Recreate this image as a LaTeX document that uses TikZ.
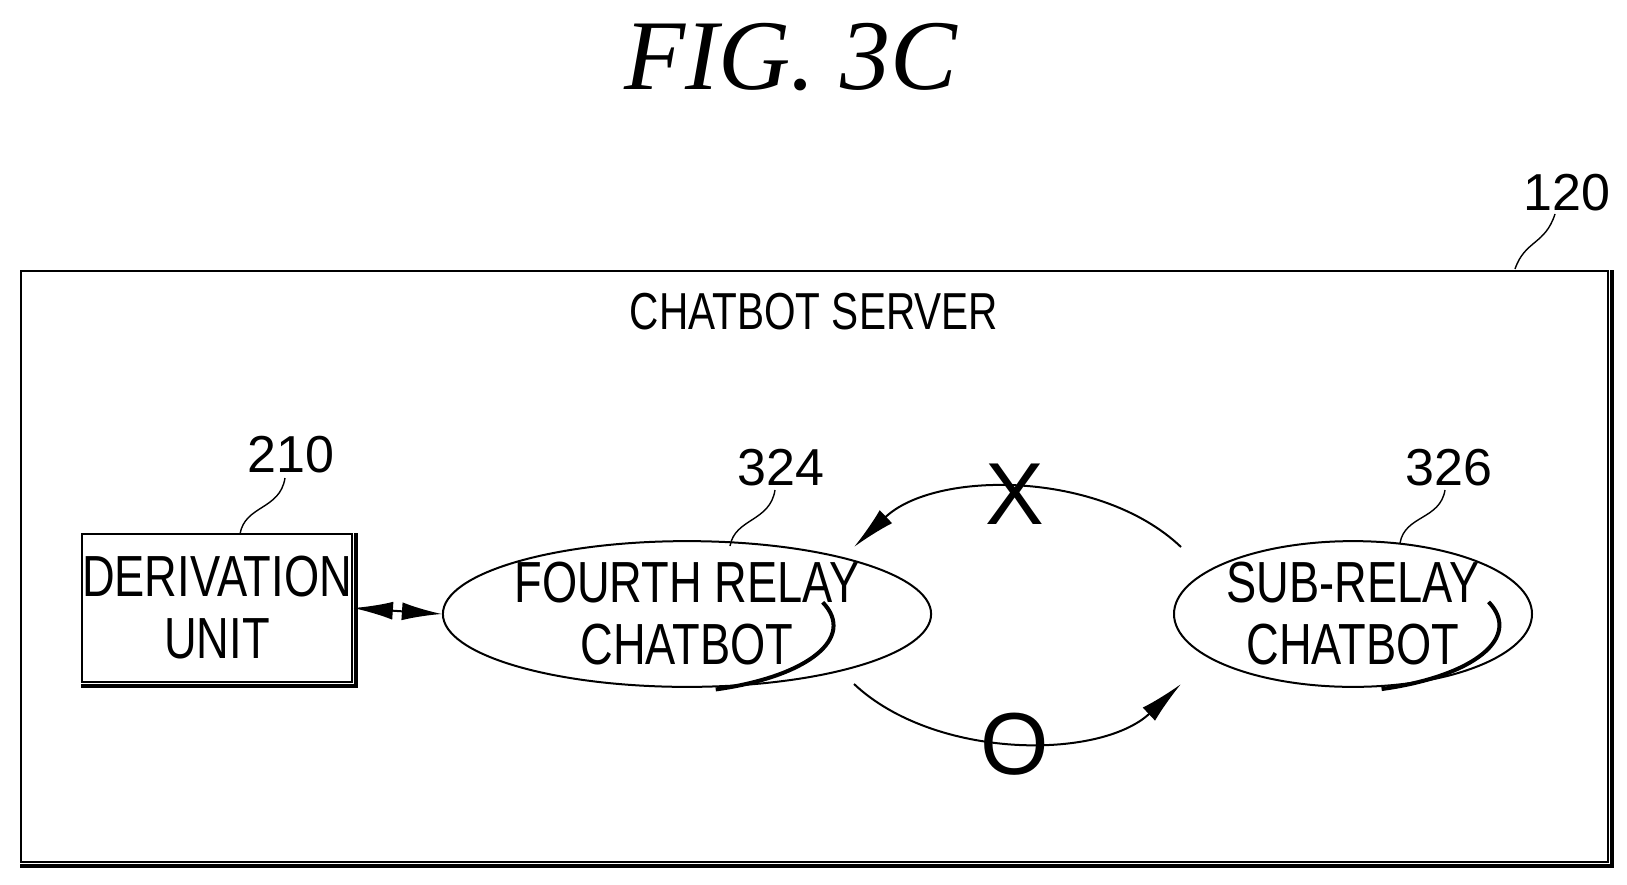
\documentclass[tikz,border=0pt]{standalone}
\usepackage{fontspec}
\setmainfont{Liberation Sans}
\newfontfamily\serifit{Liberation Serif}
\usetikzlibrary{shapes.geometric,arrows.meta}
\newcommand{\nar}[1]{\scalebox{0.78}[1]{#1}}
\begin{document}
\begin{tikzpicture}[x=0.5pt,y=-0.5pt,
  lbl/.style={font=\fontsize{29}{31}\selectfont,align=center,inner sep=0},
  num/.style={font=\fontsize{26}{28}\selectfont,inner sep=0},
  sq/.style={line width=0.7pt},
  arr/.style={line width=1pt,-{Latex[length=22pt,width=9pt]}}]
\useasboundingbox (0,0) rectangle (1627,884);
\node[font=\serifit\itshape\fontsize{50}{52}\selectfont] (title) at (791,57) {FIG. 3C};
% frame
\node[draw,line width=1pt,minimum width=793.5pt,minimum height=295.5pt,inner sep=0] (frame) at (814.5,566.5) {};
\draw[line width=2pt] ([xshift=1.5pt]frame.north east) -- ([xshift=1.5pt,yshift=-1.5pt]frame.south east) -- ([yshift=-1.5pt]frame.south west);
\node[num] (n120) at (1567,193) {120};
\draw[sq] (1515,269) .. controls (1525,240) and (1545,245) .. (1555,214);
\node[lbl,font=\fontsize{26}{28}\selectfont] (title2) at (814,312) {\nar{CHATBOT SERVER}};
% derivation
\node[draw,line width=1pt,minimum width=118pt,minimum height=74pt,lbl] (der) at (217,608) {\nar{DERIVATION}\\\nar{UNIT}};
\draw[line width=2pt] ([xshift=1.5pt]der.north east) -- ([xshift=1.5pt,yshift=-1.5pt]der.south east) -- ([yshift=-1.5pt]der.south west);
\node[num] (n210) at (291,455) {210};
\draw[sq] (240,534) .. controls (245,505) and (280,510) .. (285,478);
% ellipses
\node[draw,ellipse,line width=1pt,minimum width=179pt,minimum height=68pt,inner sep=0,lbl] (fourth) at (687,614) {\nar{FOURTH RELAY}\\\nar{CHATBOT}};
\draw[line width=2pt] ([shift={(1pt,-1pt)}]fourth.-70) arc[start angle=-70,end angle=20,x radius=89.5pt,y radius=34pt];
\node[num] (n324) at (781,468) {324};
\draw[sq] (730,546) .. controls (735,518) and (770,522) .. (775,490);
\node[draw,ellipse,line width=1pt,minimum width=179pt,minimum height=68pt,inner sep=0,lbl] (sub) at (1353,614) {\nar{SUB-RELAY}\\\nar{CHATBOT}};
\draw[line width=2pt] ([shift={(1pt,-1pt)}]sub.-70) arc[start angle=-70,end angle=20,x radius=89.5pt,y radius=34pt];
\node[num] (n326) at (1449,468) {326};
\draw[sq] (1400,543) .. controls (1405,515) and (1440,520) .. (1445,490);
% connectors
\draw[line width=1pt,{Latex[length=20pt,width=9pt]}-{Latex[length=20pt,width=9pt]}] (der.east) -- (fourth.west);
\coordinate (a1) at (1181,547); \coordinate (a2) at (854,547);
\coordinate (b1) at (854,684); \coordinate (b2) at (1181,684);
\draw[arr] (a1) .. controls (1100,470) and (935,470) .. (a2);
\draw[arr] (b1) .. controls (935,760) and (1100,760) .. (b2);
\node[font=\fontsize{44}{46}\selectfont,inner sep=0] (x) at (1015,494) {X};
\node[font=\fontsize{44}{46}\selectfont,inner sep=0] (o) at (1015,744) {O};
\end{tikzpicture}
\end{document}
